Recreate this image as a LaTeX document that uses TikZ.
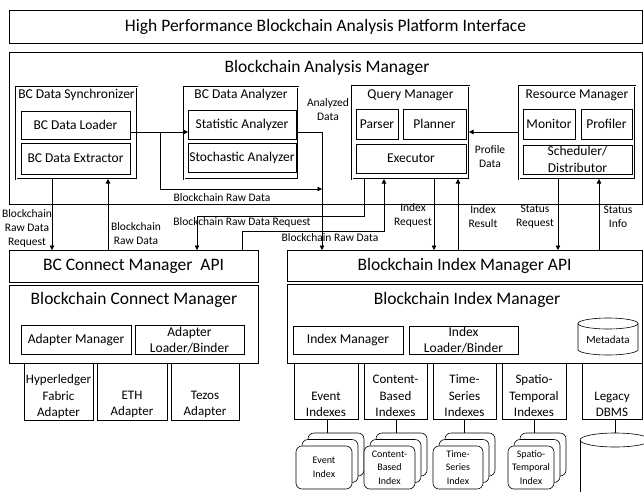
\documentclass[tikz,border=0pt]{standalone}
\usepackage{fontspec}
\setmainfont{Carlito}
\usetikzlibrary{arrows.meta}
\newcommand\fsBig{\fontsize{17.5}{20}\selectfont}
\newcommand\fsM{\fontsize{13.5}{16}\selectfont}
\newcommand\fsAd{\fontsize{13}{16.5}\selectfont}
\newcommand\fsS{\fontsize{11.5}{14}\selectfont}
\newcommand\fsC{\fontsize{10}{13.5}\selectfont}
\newcommand\fsD{\fontsize{11}{13}\selectfont}
% \bx[style]{name}{x1}{y1}{x2}{y2}{text}
\newcommand\bx[7][plain]{\node[#1,minimum width={(#5)-(#3)},minimum height={(#6)-(#4)}] (#2) at ({((#3)+(#5))/2},{((#4)+(#6))/2}) {#7};}
% \cardstack{name}{x1}{x2}{text}
\newcommand\cardstack[4]{%
  \node[card,minimum width={(#3)-(#2)}] (#1b) at ({((#2)+(#3))/2+12},454.5) {};
  \node[card,minimum width={(#3)-(#2)}] (#1m) at ({((#2)+(#3))/2+6},461) {};
  \node[card,minimum width={(#3)-(#2)},font=\fsC] (#1) at ({((#2)+(#3))/2},467.5) {#4};}
\begin{document}
\begin{tikzpicture}[x=1pt,y=-1pt,
  plain/.style={draw,line width=0.6pt,inner sep=0pt,outer sep=0pt,align=center},
  big/.style={plain,line width=0.7pt,font=\fsBig},
  outer/.style={plain,line width=0.7pt},
  grp/.style={draw,double,double distance=1pt,line width=0.45pt,inner sep=0pt,outer sep=0pt},
  inbox/.style={plain,line width=0.85pt,font=\fsM},
  card/.style={draw,line width=0.6pt,fill=white,rounded corners=6pt,minimum height=43,inner sep=0pt,outer sep=0pt,align=center},
  lblB/.style={font=\fsM,inner sep=0pt,align=center},
  ttl/.style={font=\fsBig,inner sep=0pt,align=center},
  lblS/.style={font=\fsS,inner sep=0pt,align=center},
  lblA/.style={font=\fsAd,inner sep=0pt,align=center},
  conn/.style={line width=0.55pt},
  arr/.style={conn,-{Triangle[length=4.5pt,width=4.5pt]}}]
\useasboundingbox (0,0) rectangle (644,491);
\fill[white] (0,0) rectangle (644,491);
\clip (0,0) rectangle (644,491);

% top interface
\bx[big]{top}{9}{10}{642}{43}{High Performance Blockchain Analysis Platform Interface}

% analysis manager
\bx[outer]{bam}{9}{52}{642}{204}{}
\node[ttl] (bamT) at (327,68) {Blockchain Analysis Manager};

\bx[grp]{syn}{16}{87}{137}{179}{}
\node[lblB] (synT) at (76.5,95) {BC Data Synchronizer};
\bx[inbox]{loader}{21}{111}{130}{139}{BC Data Loader}
\bx[inbox]{extractor}{21}{143}{130}{174}{BC Data Extractor}

\bx[grp]{ana}{184}{87}{298}{179}{}
\node[lblB] (anaT) at (241,95) {BC Data Analyzer};
\bx[inbox]{stat}{188}{110}{296}{139}{Statistic Analyzer}
\bx[inbox]{stoch}{188}{143}{296}{172}{Stochastic Analyzer}

\bx[grp]{qm}{352}{86}{469}{179}{}
\node[lblB] (qmT) at (410.5,95) {Query Manager};
\bx[inbox]{parser}{356}{109}{398}{139}{Parser}
\bx[inbox]{planner}{403}{109}{466}{139}{Planner}
\bx[inbox]{executor}{356}{144}{466}{173}{Executor}

\bx[grp]{rm}{519}{86}{635}{179}{}
\node[lblB] (rmT) at (577,95) {Resource Manager};
\bx[inbox]{monitor}{523}{109}{575}{139}{Monitor}
\bx[inbox]{profiler}{581}{109}{632}{139}{Profiler}
\bx[inbox]{sched}{523}{145}{632}{174}{}
\node[lblB] (schedT) at (577.5,159) {Scheduler/\\[1pt]Distributor};

% connect manager
\bx[big]{capi}{9}{250}{258}{282}{BC Connect Manager~ API}
\bx[outer]{cm}{9}{285}{258}{363}{}
\node[ttl] (cmT) at (134,300) {Blockchain Connect Manager};
\bx[inbox]{am}{21}{325}{131}{354}{Adapter Manager}
\bx[inbox]{alb}{135}{325}{244}{354}{}
\node[lblB] (albT) at (189.5,340) {Adapter\\Loader/Binder};

\bx{hf}{24}{363}{93}{420}{}
\bx{eth}{97}{363}{167}{420}{}
\bx{tez}{171}{363}{239}{420}{}
\node[lblA] (hfT) at (58.5,397) {Hyperledger\\Fabric\\Adapter};
\node[lblA] (ethT) at (132,404.5) {ETH\\Adapter};
\node[lblA] (tezT) at (205,404.5) {Tezos\\Adapter};

% index manager
\bx[big]{iapi}{287}{250}{642}{281}{Blockchain Index Manager API}
\bx[outer]{im}{287}{284}{642}{363}{}
\node[ttl] (imT) at (467,300) {Blockchain Index Manager};
\bx[inbox]{idxm}{293}{326}{403}{354}{Index Manager}
\bx[inbox]{ilb}{409}{326}{518}{354}{}
\node[lblB] (ilbT) at (463.5,340) {Index\\Loader/Binder};

% metadata cylinder
\draw[line width=0.6pt] (578,323.5) -- (578,349.5) arc[start angle=180,end angle=0,x radius=30,y radius=5.5] -- (638,323.5);
\draw[line width=0.6pt] (608,323.5) ellipse [x radius=30,y radius=5.5];
\node[font=\fsD,inner sep=0pt] (metaT) at (608,340) {Metadata};

\bx{ev}{294}{363}{358}{419}{}
\bx{cb}{364}{363}{427}{419}{}
\bx{ts}{433}{363}{496}{419}{}
\bx{st}{502}{363}{566}{419}{}
\bx{leg}{582}{363}{642}{419}{}
\node[lblA] (evT) at (326,404.5) {Event\\Indexes};
\node[lblA] (cbT) at (395.5,396) {Content-\\Based\\Indexes};
\node[lblA] (tsT) at (464.5,396) {Time-\\Series\\Indexes};
\node[lblA] (stT) at (534,396) {Spatio-\\Temporal\\Indexes};
\node[lblA] (legT) at (612,404.5) {Legacy\\DBMS};

% stacks
\cardstack{evc}{296}{352}{Event\\Index}
\cardstack{cbc}{364}{415}{Content-\\Based\\Index}
\cardstack{tsc}{433}{483}{Time-\\Series\\Index}
\cardstack{stc}{508}{554}{Spatio-\\Temporal\\Index}
\draw[conn] (ev.south -| 327,0) -- (evcb.north -| 327,0);
\draw[conn] (cb.south -| 396,0) -- (cbcb.north -| 396,0);
\draw[conn] (ts.south -| 464,0) -- (tscb.north -| 464,0);
\draw[conn] (st.south -| 534,0) -- (stcb.north -| 534,0);

% legacy database cylinder
\coordinate (dbtop) at (615,433);
\fill[white] (580,440) rectangle (650,495);
\draw[line width=0.6pt] (580,440) -- (580,495);
\draw[line width=0.6pt] (650,440) -- (650,495);
\draw[line width=0.6pt] (615,440) ellipse [x radius=35,y radius=7];
\draw[conn] (leg.south -| 615,0) -- (dbtop);

% connectors in analysis manager
\coordinate (br) at (160,132);
\coordinate (rawj) at (322,189);
\draw[arr] (loader.east |- 0,132) -- (stat.west |- 0,132);
\draw[arr] (br) |- (rawj);
\draw[arr] (stat.east |- 0,132) -| (iapi.north -| 322,0);
\draw[arr] (rm.west |- 0,132) -- (qm.east |- 0,132);

% vertical connectors
\draw[arr] (syn.south -| 52,0) -- (capi.north -| 52,0);
\draw[arr] (capi.north -| 108,0) -- (syn.south -| 108,0);
\draw[arr] (qm.south -| 364,0) -- (364,216) -| (capi.north -| 197,0);
\draw[arr] (capi.north -| 242,0) -- (242,231) -| (qm.south -| 384,0);
\draw[arr] (qm.south -| 434,0) -- (iapi.north -| 434,0);
\draw[arr] (iapi.north -| 458,0) -- (qm.south -| 458,0);
\draw[arr] (rm.south -| 558,0) -- (iapi.north -| 558,0);
\draw[arr] (iapi.north -| 599,0) -- (rm.south -| 599,0);

% labels
\node[lblS] (l1) at (328,110) {Analyzed\\Data};
\node[lblS] (l2) at (222,198) {Blockchain Raw Data};
\node[lblS] (l3) at (490,157) {Profile\\Data};
\node[lblS] (l4) at (27,228) {Blockchain\\Raw Data\\Request};
\node[lblS] (l5) at (136,234) {Blockchain\\Raw Data};
\node[lblS] (l6) at (242,222) {Blockchain Raw Data Request};
\node[lblS] (l7) at (330,238) {Blockchain Raw Data};
\node[lblS] (l8) at (413,215) {Index\\Request};
\node[lblS] (l9) at (483,217) {Index\\Result};
\node[lblS] (l10) at (535,217) {Status\\Request};
\node[lblS] (l11) at (618,217) {Status\\Info};
\end{tikzpicture}
\end{document}
